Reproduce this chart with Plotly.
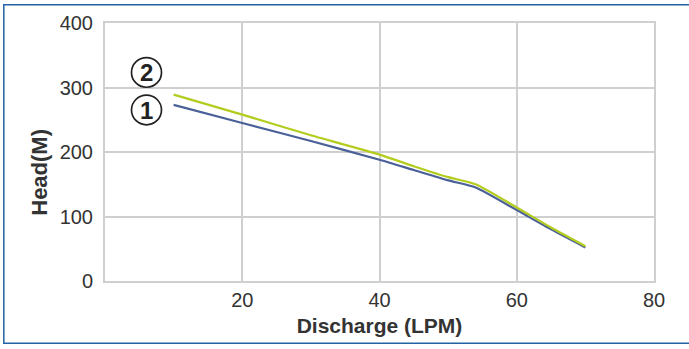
import plotly.graph_objects as go

discharge = [10, 20, 30, 40, 45, 50, 54, 60, 65, 70]
head_2 = [289, 258, 226, 196, 178, 161, 150, 114, 83, 54]
head_1 = [273, 245, 217, 188, 172, 156, 145, 110, 80, 52]
x_ticks = [20, 40, 60, 80]
y_ticks = [0, 100, 200, 300, 400]
labels = ["2", "1"]

W, H = 689, 349
L, R, T, B = 105, 35, 20, 68
pw, ph = W - L - R, H - T - B

fig = go.Figure()
fig.add_trace(go.Scatter(x=discharge, y=head_1, mode="lines",
                         line=dict(color="#4a6098", width=2.2, shape="spline", smoothing=0.6),
                         hoverinfo="skip", showlegend=False))
fig.add_trace(go.Scatter(x=discharge, y=head_2, mode="lines",
                         line=dict(color="#b3cc1e", width=2.2, shape="spline", smoothing=0.6),
                         hoverinfo="skip", showlegend=False))

grid = "#cfcfcf"
fig.update_xaxes(range=[0, 80], tickvals=x_ticks, showgrid=True, gridcolor=grid, gridwidth=2,
                 showline=True, linecolor=grid, linewidth=2, mirror=True, zeroline=False,
                 ticks="", tickfont=dict(family="Liberation Sans, Arial", size=20, color="#333333"),
                 title=dict(text="<b>Discharge (LPM)</b>", standoff=8,
                            font=dict(family="Liberation Sans, Arial", size=21, color="#333333")))
fig.update_yaxes(range=[0, 400], tickvals=y_ticks, showgrid=True, gridcolor=grid, gridwidth=2,
                 showline=True, linecolor=grid, linewidth=2, mirror=True, zeroline=False,
                 ticks="outside", ticklen=6, tickcolor="rgba(0,0,0,0)",
                 tickfont=dict(family="Liberation Sans, Arial", size=20, color="#333333"))

def px_x(p):
    return (p - L) / pw

def px_y(p):
    return (H - B - p) / ph

# y-axis title (sits below the plot centre in the reference)
fig.add_annotation(text="<b>Head(M)</b>", xref="paper", yref="paper",
                   x=px_x(40), y=px_y(171.5), textangle=-90,
                   xanchor="center", yanchor="middle", showarrow=False,
                   font=dict(family="Liberation Sans, Arial", size=22, color="#333333"))

# blue frame around the whole picture
fig.add_shape(type="rect", xref="paper", yref="paper",
              x0=px_x(3.8), x1=px_x(695), y0=px_y(344), y1=px_y(1.6),
              line=dict(color="#2262a4", width=1.5), fillcolor="rgba(0,0,0,0)")

# circled curve labels
r = 15
for txt, yc in zip(labels, [70, 108]):
    xc = 146.5
    fig.add_shape(type="circle", xref="paper", yref="paper",
                  x0=px_x(xc - r), x1=px_x(xc + r), y0=px_y(yc + r), y1=px_y(yc - r),
                  line=dict(color="#222222", width=1.7), fillcolor="rgba(0,0,0,0)")
    fig.add_annotation(text="<b>" + txt + "</b>", xref="paper", yref="paper",
                       x=px_x(xc), y=px_y(yc + 0.5),
                       xanchor="center", yanchor="middle", showarrow=False,
                       font=dict(family="Liberation Sans, Arial", size=24, color="#222222"))

fig.update_layout(width=W, height=H, margin=dict(l=L, r=R, t=T, b=B),
                  paper_bgcolor="white", plot_bgcolor="white")
fig.write_html("out.html", post_script="document.body.style.margin='0';",
               config={"displayModeBar": False})
